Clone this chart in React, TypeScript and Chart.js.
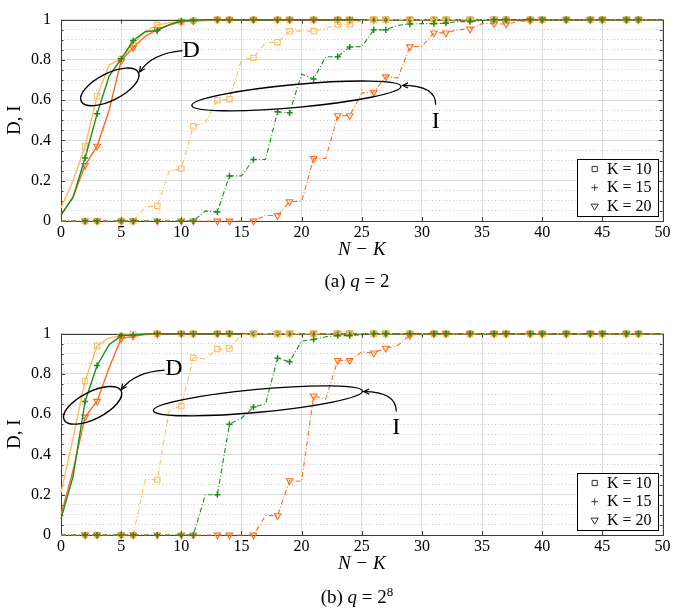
import React, { useEffect, useRef } from "react";
import { Chart, registerables } from "chart.js";

Chart.register(...registerables);

// ---------- data ----------
const nMinusK = [0, 1, 2, 3, 4, 5, 6, 7, 8, 9, 10, 11, 12, 13, 14, 15, 16, 17, 18, 19, 20, 21, 22, 23, 24, 25, 26, 27, 28, 29, 30, 31, 32, 33, 34, 35, 36, 37, 38, 39, 40, 41, 42, 43, 44, 45, 46, 47, 48, 49, 50];
const markedNK = [2, 3, 5, 6, 8, 10, 11, 13, 14, 16, 18, 19, 21, 23, 24, 26, 27, 29, 31, 32, 34, 36, 37, 39, 40, 42, 44, 45, 47, 48];
const xTickValues = [0, 5, 10, 15, 20, 25, 30, 35, 40, 45, 50];
const xTickLabels = ["0", "5", "10", "15", "20", "25", "30", "35", "40", "45", "50"];
const yTickValues = [0, 0.2, 0.4, 0.6, 0.8, 1];
const yTickLabels = ["0", "0.2", "0.4", "0.6", "0.8", "1"];
const kLabels = ["K = 10", "K = 15", "K = 20"];

// (a) q = 2 : D (decoding) curves
const dQ2K10 = [0.065, 0.2, 0.37, 0.62, 0.775, 0.805, 0.88, 0.94, 0.973, 0.985, 0.99, 0.995, 0.998, 1, 1, 1, 1, 1, 1, 1, 1, 1, 1, 1, 1, 1, 1, 1, 1, 1, 1, 1, 1, 1, 1, 1, 1, 1, 1, 1, 1, 1, 1, 1, 1, 1, 1, 1, 1, 1, 1];
const dQ2K15 = [0.03, 0.117, 0.313, 0.532, 0.72, 0.805, 0.896, 0.94, 0.946, 0.975, 0.994, 0.997, 0.999, 1, 1, 1, 1, 1, 1, 1, 1, 1, 1, 1, 1, 1, 1, 1, 1, 1, 1, 1, 1, 1, 1, 1, 1, 1, 1, 1, 1, 1, 1, 1, 1, 1, 1, 1, 1, 1, 1];
const dQ2K20 = [0.03, 0.12, 0.276, 0.372, 0.55, 0.795, 0.861, 0.917, 0.95, 0.973, 0.99, 0.992, 0.996, 1, 1, 1, 1, 1, 1, 1, 1, 1, 1, 1, 1, 1, 1, 1, 1, 1, 1, 1, 1, 1, 1, 1, 1, 1, 1, 1, 1, 1, 1, 1, 1, 1, 1, 1, 1, 1, 1];
// (a) q = 2 : I curves
const iQ2K10 = [0, 0, 0, 0, 0, 0, 0, 0.07, 0.075, 0.25, 0.26, 0.47, 0.49, 0.6, 0.605, 0.8, 0.81, 0.885, 0.888, 0.942, 0.943, 0.943, 0.957, 0.976, 0.977, 0.995, 1, 1, 1, 1, 1, 1, 1, 1, 1, 1, 1, 1, 1, 1, 1, 1, 1, 1, 1, 1, 1, 1, 1, 1, 1];
const iQ2K15 = [0, 0, 0, 0, 0, 0, 0, 0, 0, 0, 0, 0, 0.05, 0.045, 0.224, 0.224, 0.305, 0.305, 0.542, 0.537, 0.73, 0.705, 0.815, 0.816, 0.864, 0.866, 0.949, 0.949, 0.972, 0.978, 0.98, 0.98, 0.982, 0.99, 0.99, 0.995, 1, 1, 1, 1, 1, 1, 1, 1, 1, 1, 1, 1, 1, 1, 1];
const iQ2K20 = [0, 0, 0, 0, 0, 0, 0, 0, 0, 0, 0, 0, 0, 0, 0, 0, 0, 0.027, 0.027, 0.096, 0.098, 0.31, 0.31, 0.523, 0.523, 0.635, 0.64, 0.716, 0.71, 0.865, 0.867, 0.934, 0.934, 0.95, 0.953, 0.98, 0.98, 0.978, 0.99, 0.996, 1, 1, 1, 1, 1, 1, 1, 1, 1, 1, 1];

// (b) q = 2^8 : D curves
const dQ8K10 = [0.21, 0.48, 0.765, 0.94, 0.978, 0.99, 0.998, 1, 1, 1, 1, 1, 1, 1, 1, 1, 1, 1, 1, 1, 1, 1, 1, 1, 1, 1, 1, 1, 1, 1, 1, 1, 1, 1, 1, 1, 1, 1, 1, 1, 1, 1, 1, 1, 1, 1, 1, 1, 1, 1, 1];
const dQ8K15 = [0.08, 0.29, 0.663, 0.842, 0.945, 0.99, 0.993, 0.998, 1, 1, 1, 1, 1, 1, 1, 1, 1, 1, 1, 1, 1, 1, 1, 1, 1, 1, 1, 1, 1, 1, 1, 1, 1, 1, 1, 1, 1, 1, 1, 1, 1, 1, 1, 1, 1, 1, 1, 1, 1, 1, 1];
const dQ8K20 = [0.1, 0.32, 0.586, 0.664, 0.83, 0.975, 0.987, 0.995, 0.998, 1, 1, 1, 1, 1, 1, 1, 1, 1, 1, 1, 1, 1, 1, 1, 1, 1, 1, 1, 1, 1, 1, 1, 1, 1, 1, 1, 1, 1, 1, 1, 1, 1, 1, 1, 1, 1, 1, 1, 1, 1, 1];
// (b) q = 2^8 : I curves
const iQ8K10 = [0, 0, 0, 0, 0, 0, 0, 0.275, 0.275, 0.62, 0.64, 0.88, 0.875, 0.923, 0.926, 0.995, 1, 1, 1, 1, 1, 1, 1, 1, 1, 1, 1, 1, 1, 1, 1, 1, 1, 1, 1, 1, 1, 1, 1, 1, 1, 1, 1, 1, 1, 1, 1, 1, 1, 1, 1];
const iQ8K15 = [0, 0, 0, 0, 0, 0, 0, 0, 0, 0, 0, 0, 0.2, 0.2, 0.55, 0.58, 0.635, 0.651, 0.878, 0.86, 0.963, 0.971, 0.984, 0.99, 0.99, 0.995, 1, 1, 1, 1, 1, 1, 1, 1, 1, 1, 1, 1, 1, 1, 1, 1, 1, 1, 1, 1, 1, 1, 1, 1, 1];
const iQ8K20 = [0, 0, 0, 0, 0, 0, 0, 0, 0, 0, 0, 0, 0, 0, 0, 0, 0, 0.096, 0.096, 0.27, 0.267, 0.691, 0.675, 0.867, 0.867, 0.91, 0.904, 0.928, 0.942, 0.99, 1, 1, 1, 1, 1, 1, 1, 1, 1, 1, 1, 1, 1, 1, 1, 1, 1, 1, 1, 1, 1];

// ---------- styles ----------
const FONT = '"Liberation Serif", "Times New Roman", serif';
const colorK = ["#FBBD62", "#1E8C1E", "#FF6C1E"];
const markerK = [
  { style: "rect", radius: 3.8, rotation: 0, width: 1.1 },
  { style: "cross", radius: 3.1, rotation: 0, width: 1.5 },
  { style: "triangle", radius: 3.8, rotation: 180, width: 1.1 },
];
const drawOrderK = [2, 0, 1];

type Annot = {
  ellipses: { x: number; y: number; rx: number; ry: number; rot: number }[];
  labels: { x: number; y: number; text: string }[];
  arrows: { sx: number; sy: number; cx: number; cy: number; ex: number; ey: number }[];
};

const annotA: Annot = {
  ellipses: [
    { x: 4.06, y: 0.666, rx: 32, ry: 13.5, rot: -27 },
    { x: 19.57, y: 0.621, rx: 105, ry: 11.5, rot: -5.2 },
  ],
  labels: [
    { x: 10.82, y: 0.846, text: "D" },
    { x: 31.15, y: 0.494, text: "I" },
  ],
  arrows: [
    { sx: 10.1, sy: 0.846, cx: 7.53, cy: 0.832, ex: 6.54, ey: 0.74 },
    { sx: 31.15, sy: 0.577, cx: 31.15, cy: 0.673, ex: 28.4, ey: 0.673 },
  ],
};

const annotB: Annot = {
  ellipses: [
    { x: 2.63, y: 0.644, rx: 32, ry: 13.5, rot: -27 },
    { x: 16.37, y: 0.666, rx: 105, ry: 11.5, rot: -5.3 },
  ],
  labels: [
    { x: 9.38, y: 0.827, text: "D" },
    { x: 27.87, y: 0.531, text: "I" },
  ],
  arrows: [
    { sx: 8.61, sy: 0.819, cx: 6.13, cy: 0.81, ex: 5.02, ey: 0.723 },
    { sx: 27.87, sy: 0.613, cx: 27.87, cy: 0.712, ex: 25.17, ey: 0.712 },
  ],
};

function isMajorY(v: number) {
  return yTickValues.some((t) => Math.abs(t - v) < 1e-6);
}

function makeDataset(vals: number[], k: number, dashed: boolean) {
  const m = markerK[k];
  return {
    label: (dashed ? "I, " : "D, ") + kLabels[k],
    data: nMinusK.map((x, j) => ({ x, y: vals[j] })),
    borderColor: colorK[k],
    borderWidth: dashed ? 1.1 : 1.4,
    borderDash: dashed ? [5, 2.2, 1, 2.2] : [],
    pointStyle: m.style,
    pointRotation: m.rotation,
    pointRadius: (ctx: any) => (markedNK.includes(nMinusK[ctx.dataIndex]) ? m.radius : 0),
    pointHoverRadius: 0,
    pointBorderColor: colorK[k],
    pointBackgroundColor: "rgba(255,255,255,0)",
    pointBorderWidth: m.width,
    tension: 0,
    fill: false,
    clip: false,
    order: drawOrderK[k] + (dashed ? 0 : 3),
  };
}

function drawMarker(ctx: CanvasRenderingContext2D, k: number, x: number, y: number) {
  ctx.beginPath();
  if (k === 0) {
    ctx.rect(x - 2.6, y - 2.6, 5.2, 5.2);
  } else if (k === 1) {
    ctx.moveTo(x - 3.3, y);
    ctx.lineTo(x + 3.3, y);
    ctx.moveTo(x, y - 3.3);
    ctx.lineTo(x, y + 3.3);
  } else {
    ctx.moveTo(x - 3.7, y - 2.4);
    ctx.lineTo(x + 3.7, y - 2.4);
    ctx.lineTo(x, y + 3.7);
    ctx.closePath();
  }
  ctx.stroke();
}

function makeDecorPlugin(annot: Annot) {
  return {
    id: "panelDecor",
    beforeDatasetsDraw(chart: any) {
      const { ctx, chartArea: a, scales } = chart;
      const xs = scales.x;
      const ys = scales.y;
      ctx.save();
      ctx.strokeStyle = "#3c3c3c";
      ctx.lineWidth = 1;
      ctx.beginPath();
      ys.ticks.forEach((t: any) => {
        const py = Math.round(ys.getPixelForValue(t.value)) + 0.5;
        const len = isMajorY(t.value) ? 4 : 2.5;
        ctx.moveTo(a.left, py);
        ctx.lineTo(a.left + len, py);
        ctx.moveTo(a.right - len, py);
        ctx.lineTo(a.right, py);
      });
      xs.ticks.forEach((t: any) => {
        const px = Math.round(xs.getPixelForValue(t.value)) + 0.5;
        ctx.moveTo(px, a.bottom);
        ctx.lineTo(px, a.bottom - 4);
        ctx.moveTo(px, a.top);
        ctx.lineTo(px, a.top + 4);
      });
      ctx.stroke();
      ctx.strokeRect(Math.round(a.left) + 0.5, Math.round(a.top) + 0.5, Math.round(a.right - a.left), Math.round(a.bottom - a.top));
      ctx.restore();
    },
    afterDatasetsDraw(chart: any) {
      const { ctx, chartArea: a, scales } = chart;
      const xs = scales.x;
      const ys = scales.y;
      const X = (v: number) => xs.getPixelForValue(v);
      const Y = (v: number) => ys.getPixelForValue(v);
      ctx.save();
      ctx.strokeStyle = "#000";
      ctx.lineWidth = 1.4;
      annot.ellipses.forEach((e) => {
        ctx.beginPath();
        ctx.ellipse(X(e.x), Y(e.y), e.rx, e.ry, (e.rot * Math.PI) / 180, 0, Math.PI * 2);
        ctx.stroke();
      });
      ctx.lineWidth = 1.2;
      annot.arrows.forEach((ar) => {
        const sx = X(ar.sx), sy = Y(ar.sy), cx = X(ar.cx), cy = Y(ar.cy), ex = X(ar.ex), ey = Y(ar.ey);
        ctx.beginPath();
        ctx.moveTo(sx, sy);
        ctx.quadraticCurveTo(cx, cy, ex, ey);
        ctx.stroke();
        const ang = Math.atan2(ey - cy, ex - cx);
        const hl = 6;
        ctx.beginPath();
        ctx.moveTo(ex - hl * Math.cos(ang - 0.45), ey - hl * Math.sin(ang - 0.45));
        ctx.lineTo(ex, ey);
        ctx.lineTo(ex - hl * Math.cos(ang + 0.45), ey - hl * Math.sin(ang + 0.45));
        ctx.stroke();
      });
      ctx.fillStyle = "#000";
      ctx.font = `24px ${FONT}`;
      ctx.textAlign = "center";
      ctx.textBaseline = "middle";
      annot.labels.forEach((l) => ctx.fillText(l.text, X(l.x), Y(l.y)));

      // legend box
      const bw = 81, bh = 57;
      const bx = Math.round(a.right) - 86, by = Math.round(a.bottom) - 62;
      ctx.fillStyle = "#fff";
      ctx.fillRect(bx, by, bw, bh);
      ctx.strokeStyle = "#000";
      ctx.lineWidth = 1;
      ctx.strokeRect(bx + 0.5, by + 0.5, bw, bh);
      const rowY = [10, 28.7, 47.5];
      ctx.font = `16px ${FONT}`;
      ctx.textAlign = "left";
      kLabels.forEach((lab, k) => {
        ctx.strokeStyle = "#333";
        ctx.lineWidth = 1;
        drawMarker(ctx, k, bx + 17.7, by + rowY[k]);
        ctx.fillStyle = "#000";
        ctx.fillText(lab, bx + 30, by + rowY[k] + 0.5);
      });
      ctx.restore();
    },
  };
}

function Panel({ top, dSeries, iSeries, annot }: { top: number; dSeries: number[][]; iSeries: number[][]; annot: Annot }) {
  const ref = useRef<HTMLCanvasElement | null>(null);
  useEffect(() => {
    if (!ref.current) return;
    const datasets: any[] = [];
    dSeries.forEach((v, k) => datasets.push(makeDataset(v, k, false)));
    iSeries.forEach((v, k) => datasets.push(makeDataset(v, k, true)));
    const chart = new Chart(ref.current, {
      type: "line",
      data: { datasets },
      plugins: [makeDecorPlugin(annot)],
      options: {
        animation: false,
        responsive: false,
        events: [],
        layout: { padding: { top: 13, right: 8, left: 0, bottom: 0 } },
        plugins: { legend: { display: false }, tooltip: { enabled: false } },
        scales: {
          x: {
            type: "linear",
            min: 0,
            max: 50,
            afterFit: (s: any) => {
              s.height = 75;
            },
            ticks: {
              stepSize: 5,
              autoSkip: false,
              maxRotation: 0,
              padding: 2.5,
              color: "#000",
              font: { family: FONT, size: 16 },
              callback: (v: any) => {
                const i = xTickValues.indexOf(Number(v));
                return i >= 0 ? xTickLabels[i] : "";
              },
            },
            grid: { color: "#dcdcdc", lineWidth: 1, drawTicks: false },
            border: { display: false },
            title: {
              display: true,
              text: "N − K",
              color: "#000",
              font: { family: FONT, size: 19, style: "italic" },
              padding: { top: 0, bottom: 34.5 },
            },
          },
          y: {
            type: "linear",
            min: 0,
            max: 1,
            afterFit: (s: any) => {
              s.width = 61;
            },
            ticks: {
              stepSize: 0.05,
              autoSkip: false,
              padding: 10,
              color: "#000",
              font: { family: FONT, size: 16 },
              callback: (v: any) => {
                const i = yTickValues.findIndex((t) => Math.abs(t - Number(v)) < 1e-6);
                return i >= 0 ? yTickLabels[i] : "";
              },
            },
            grid: {
              drawTicks: false,
              lineWidth: 1,
              color: (c: any) => (isMajorY(c.tick ? c.tick.value : 0) ? "#dcdcdc" : "#c4c4c4"),
            },
            border: {
              display: false,
              dash: (c: any) => (isMajorY(c.tick ? c.tick.value : 0) ? [] : [1, 2.5]),
            },
            title: {
              display: true,
              text: "D, I",
              color: "#000",
              font: { family: FONT, size: 19 },
              padding: { top: 3.5, bottom: 0 },
            },
          },
        },
      } as any,
    });
    return () => chart.destroy();
  }, []);
  return (
    <canvas
      ref={ref}
      width={673}
      height={296}
      style={{ position: "absolute", left: 0, top, width: 673, height: 296, display: "block" }}
    />
  );
}

function Caption({ top, children }: { top: number; children: any }) {
  return (
    <div
      style={{
        position: "absolute",
        left: 157,
        top,
        width: 400,
        textAlign: "center",
        fontFamily: FONT,
        fontSize: 19,
        lineHeight: "22px",
        color: "#000",
      }}
    >
      {children}
    </div>
  );
}

export default function App() {
  return (
    <div style={{ position: "absolute", left: 0, top: 0, width: 673, height: 610, background: "#fff", overflow: "hidden" }}>
      <Panel top={0} dSeries={[dQ2K10, dQ2K15, dQ2K20]} iSeries={[iQ2K10, iQ2K15, iQ2K20]} annot={annotA} />
      <Caption top={270}>
        (a) <i>q</i> = 2
      </Caption>
      <Panel top={314} dSeries={[dQ8K10, dQ8K15, dQ8K20]} iSeries={[iQ8K10, iQ8K15, iQ8K20]} annot={annotB} />
      <Caption top={586}>
        (b) <i>q</i> = 2<sup style={{ fontSize: 13, lineHeight: 0 }}>8</sup>
      </Caption>
    </div>
  );
}
